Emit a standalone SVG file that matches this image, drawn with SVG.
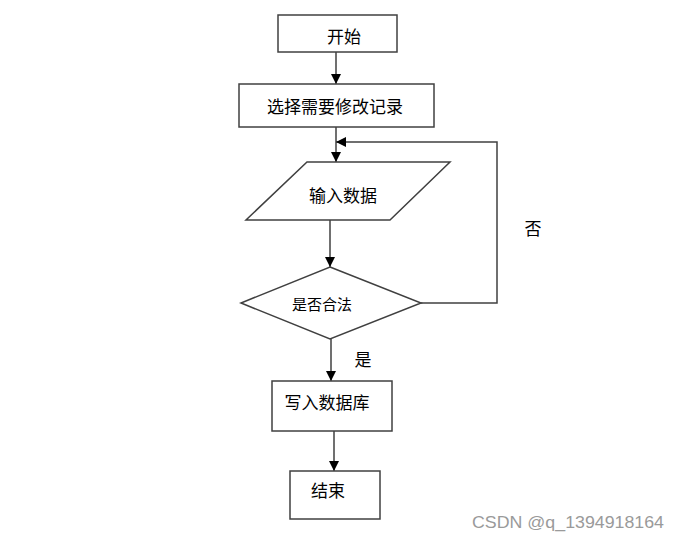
<svg xmlns="http://www.w3.org/2000/svg" width="680" height="536" viewBox="0 0 680 536">
<style>
.shape{fill:#fff;stroke:#404040;stroke-width:1.5}
.line{fill:none;stroke:#404040;stroke-width:1.5}
.t{font-family:"Noto Sans CJK SC","Liberation Sans",sans-serif;font-size:17px;fill:#000;dominant-baseline:central}
.wm{font-family:"Liberation Sans",sans-serif;font-size:17px;fill:#9a9a9a}
</style>
<defs>
<marker id="arr" viewBox="0 0 10 10" refX="10" refY="5" markerWidth="10" markerHeight="10" markerUnits="userSpaceOnUse" orient="auto">
<path d="M0,0 L10,5 L0,10 z" fill="#000"/>
</marker>
</defs>
<rect width="680" height="536" fill="#fff"/>
<g id="connectors">
<path class="line" d="M336,52 V84" marker-end="url(#arr)"/>
<path class="line" d="M336,127 V162" marker-end="url(#arr)"/>
<path class="line" d="M330,220 V267" marker-end="url(#arr)"/>
<path class="line" d="M331,339 V381" marker-end="url(#arr)"/>
<path class="line" d="M334,431 V471" marker-end="url(#arr)"/>
<path class="line" d="M421,303 H497 V142 H336" marker-end="url(#arr)"/>
<text class="t" x="363" y="358" text-anchor="middle">是</text>
<text class="t" x="533" y="227" text-anchor="middle" font-size="16">否</text>
</g>
<g id="start">
<rect class="shape" x="278" y="15" width="119" height="37"/>
<text class="t" x="344" y="35" text-anchor="middle">开始</text>
</g>
<g id="select">
<rect class="shape" x="239" y="84" width="195" height="43"/>
<text class="t" x="335" y="105" text-anchor="middle">选择需要修改记录</text>
</g>
<g id="input">
<polygon class="shape" points="307,162 450,162 390,220 246,220"/>
<text class="t" x="343" y="194" text-anchor="middle">输入数据</text>
</g>
<g id="check">
<polygon class="shape" points="330,267 421,303 330,339 241,303"/>
<text class="t" x="322" y="303" text-anchor="middle" style="font-size:15px">是否合法</text>
</g>
<g id="write">
<rect class="shape" x="272" y="381" width="120" height="50"/>
<text class="t" x="327" y="401" text-anchor="middle">写入数据库</text>
</g>
<g id="end">
<rect class="shape" x="290" y="471" width="90" height="48"/>
<text class="t" x="328" y="489" text-anchor="middle">结束</text>
</g>
<text class="wm" x="472" y="528" textLength="192" lengthAdjust="spacingAndGlyphs">CSDN @q_1394918164</text>
</svg>
